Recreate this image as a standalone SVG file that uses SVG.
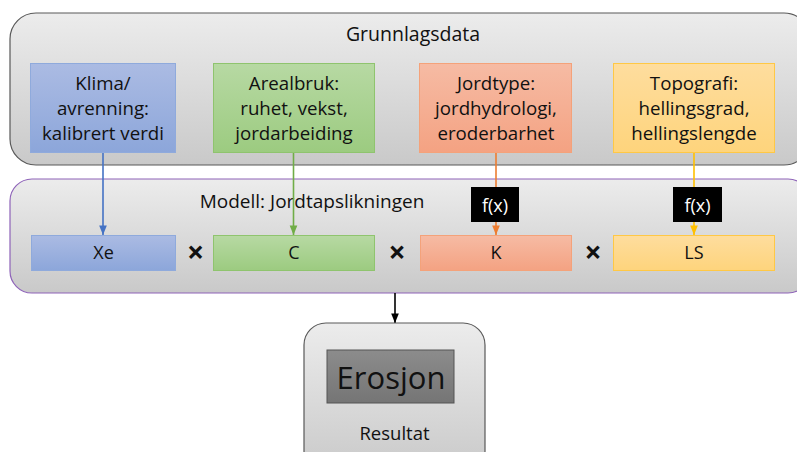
<svg xmlns="http://www.w3.org/2000/svg" width="797" height="452" viewBox="0 0 797 452">
<defs>
<linearGradient id="gGray" x1="0" y1="0" x2="0" y2="1"><stop offset="0" stop-color="#ececec"/><stop offset="1" stop-color="#c9c9c9"/></linearGradient>
<linearGradient id="gBlue" x1="0" y1="0" x2="0" y2="1"><stop offset="0" stop-color="#abbbe3"/><stop offset="1" stop-color="#8ca6da"/></linearGradient>
<linearGradient id="gGreen" x1="0" y1="0" x2="0" y2="1"><stop offset="0" stop-color="#b7d9a3"/><stop offset="1" stop-color="#9ccb80"/></linearGradient>
<linearGradient id="gOrange" x1="0" y1="0" x2="0" y2="1"><stop offset="0" stop-color="#f6bba4"/><stop offset="1" stop-color="#f4a282"/></linearGradient>
<linearGradient id="gYellow" x1="0" y1="0" x2="0" y2="1"><stop offset="0" stop-color="#fedd9e"/><stop offset="1" stop-color="#fed47c"/></linearGradient>
<linearGradient id="gDark" x1="0" y1="0" x2="0" y2="1"><stop offset="0" stop-color="#8c8c8c"/><stop offset="1" stop-color="#757575"/></linearGradient>
<marker id="aBlue" viewBox="0 0 10 10" refX="10" refY="5" markerWidth="6" markerHeight="6" orient="auto"><path d="M0,1 L10,5 L0,9 z" fill="#4472c4"/></marker>
<marker id="aGreen" viewBox="0 0 10 10" refX="10" refY="5" markerWidth="6" markerHeight="6" orient="auto"><path d="M0,1 L10,5 L0,9 z" fill="#70ad47"/></marker>
<marker id="aOrange" viewBox="0 0 10 10" refX="10" refY="5" markerWidth="6" markerHeight="6" orient="auto"><path d="M0,1 L10,5 L0,9 z" fill="#ed7d31"/></marker>
<marker id="aYellow" viewBox="0 0 10 10" refX="10" refY="5" markerWidth="6" markerHeight="6" orient="auto"><path d="M0,1 L10,5 L0,9 z" fill="#ffc000"/></marker>
<marker id="aBlack" viewBox="0 0 10 10" refX="10" refY="5" markerWidth="6" markerHeight="6" orient="auto"><path d="M0,1 L10,5 L0,9 z" fill="#000"/></marker>
</defs>
<style>
text { font-family: "Open Sans", "Liberation Sans", sans-serif; fill: #111; text-anchor: middle; }
.big { font-size: 18.7px; }
.mid { font-size: 18px; }
.op { font-size: 30px; font-weight: bold; }
.conn { fill: none; stroke-width: 1.6; }
</style>
<rect width="797" height="452" fill="#ffffff"/>

<g id="grunnlagsdata">
<rect x="10" y="13" width="800" height="152" rx="26" fill="url(#gGray)" stroke="#595959" stroke-width="1.2"/>
<text x="413" y="41" style="font-size:19.5px">Grunnlagsdata</text>
</g>

<g id="modell">
<rect x="10" y="179" width="800" height="114" rx="22" fill="url(#gGray)" stroke="#8e63b8" stroke-width="1.2"/>
<text x="312" y="208" style="font-size:19px">Modell: Jordtapslikningen</text>
</g>

<g id="connectors">
<line class="conn" x1="103" y1="152" x2="103" y2="235" stroke="#4472c4" marker-end="url(#aBlue)"/>
<line class="conn" x1="293.5" y1="152" x2="293.5" y2="235" stroke="#70ad47" marker-end="url(#aGreen)"/>
<line class="conn" x1="496" y1="152" x2="496" y2="187" stroke="#ed7d31"/>
<line class="conn" x1="496" y1="222" x2="496" y2="235" stroke="#ed7d31" marker-end="url(#aOrange)"/>
<line class="conn" x1="694" y1="152" x2="694" y2="187" stroke="#ffc000"/>
<line class="conn" x1="694" y1="222" x2="694" y2="235" stroke="#ffc000" marker-end="url(#aYellow)"/>
<line class="conn" x1="395" y1="293" x2="395" y2="323" stroke="#000" stroke-width="1.3" marker-end="url(#aBlack)"/>
</g>

<g id="klima">
<rect x="30.5" y="63.5" width="145" height="89" fill="url(#gBlue)" stroke="#8faadc" stroke-width="1"/>
<text class="big" x="103" y="90">Klima/</text>
<text class="big" x="103" y="115">avrenning:</text>
<text class="big" x="103" y="140">kalibrert verdi</text>
</g>
<g id="arealbruk">
<rect x="213.5" y="63.5" width="161" height="89" fill="url(#gGreen)" stroke="#8fc46e" stroke-width="1"/>
<text class="big" x="294" y="90">Arealbruk:</text>
<text class="big" x="294" y="115">ruhet, vekst,</text>
<text class="big" x="294" y="140">jordarbeiding</text>
</g>
<g id="jordtype">
<rect x="419.5" y="63.5" width="152" height="89" fill="url(#gOrange)" stroke="#f4a27a" stroke-width="1"/>
<text class="big" x="496" y="90">Jordtype:</text>
<text class="big" x="496" y="115">jordhydrologi,</text>
<text class="big" x="496" y="140">eroderbarhet</text>
</g>
<g id="topografi">
<rect x="613.5" y="63.5" width="161" height="89" fill="url(#gYellow)" stroke="#ffc845" stroke-width="1"/>
<text class="big" x="694" y="90">Topografi:</text>
<text class="big" x="694" y="115">hellingsgrad,</text>
<text class="big" x="694" y="140">hellingslengde</text>
</g>

<g id="fx1">
<rect x="471" y="187" width="48" height="35" fill="#000"/>
<text class="mid" x="495" y="212" style="fill:#fff">f(x)</text>
</g>
<g id="fx2">
<rect x="673" y="187" width="49" height="35" fill="#000"/>
<text class="mid" x="697.5" y="212" style="fill:#fff">f(x)</text>
</g>

<g id="xe">
<rect x="31.5" y="235.5" width="144" height="35" fill="url(#gBlue)" stroke="#8faadc" stroke-width="1"/>
<text class="mid" x="103.5" y="259">Xe</text>
</g>
<g id="c">
<rect x="213.5" y="235.5" width="161" height="35" fill="url(#gGreen)" stroke="#8fc46e" stroke-width="1"/>
<text class="mid" x="294" y="259">C</text>
</g>
<g id="k">
<rect x="420.5" y="235.5" width="151" height="35" fill="url(#gOrange)" stroke="#f4a27a" stroke-width="1"/>
<text class="mid" x="496" y="259">K</text>
</g>
<g id="ls">
<rect x="613.5" y="235.5" width="161" height="35" fill="url(#gYellow)" stroke="#ffc845" stroke-width="1"/>
<text class="mid" x="694" y="259">LS</text>
</g>

<g id="ops">
<text class="op" x="195.5" y="263">×</text>
<text class="op" x="397" y="263">×</text>
<text class="op" x="593" y="263">×</text>
</g>

<g id="resultat">
<rect x="304" y="323" width="181" height="150" rx="22" fill="url(#gGray)" stroke="#595959" stroke-width="1.2"/>
<rect x="327" y="350" width="127" height="53" fill="url(#gDark)" stroke="#555" stroke-width="1"/>
<text x="391" y="389" style="font-size:31px">Erosjon</text>
<text x="394.5" y="440" style="font-size:18.5px">Resultat</text>
</g>
</svg>
